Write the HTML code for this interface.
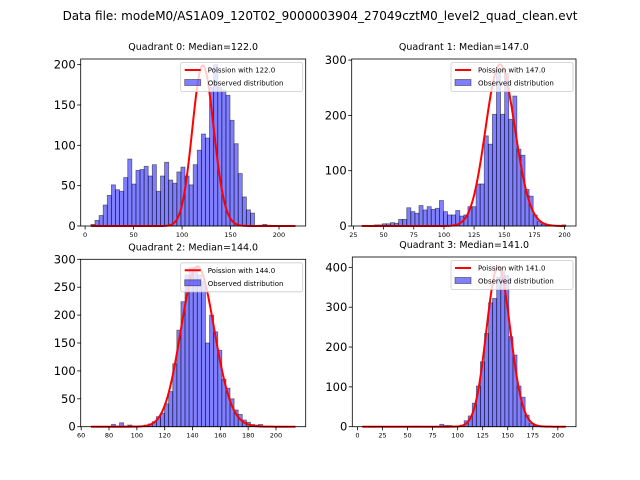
<!DOCTYPE html>
<html><head><meta charset="utf-8"><style>
html,body{margin:0;padding:0;background:#fff;}
svg{display:block;font-family:"DejaVu Sans","Liberation Sans",sans-serif;}
</style></head><body>
<svg id="fig" width="640" height="480" viewBox="0 0 640 480">
<text x="320" y="20" font-size="12" text-anchor="middle">Data file: modeM0/AS1A09_120T02_9000003904_27049cztM0_level2_quad_clean.evt</text>
</svg>
<script>
// ---- data ----
const q0Counts=[2,7,13,26,38,51,45,43,60,83,52,69,70,74,62,76,43,62,79,57,53,67,73,62,51,76,94,114,109,172,200,172,168,162,131,102,65,36,20,16,0,1,2,1,0,0,0,0,0,0];
const q1Counts=[1,1,1,2,2,4,4,6,5,12,12,33,26,23,37,29,35,30,32,46,26,20,20,28,18,20,35,35,76,76,163,148,202,282,202,276,193,235,139,128,66,54,20,8,3,2,1,1,1,2];
const q2Counts=[0,0,0,0,0,4,1,7,1,3,1,0,1,3,5,9,18,24,41,63,113,173,224,272,285,285,272,260,150,200,170,137,85,69,50,30,22,12,8,4,3,4,1,0,0,0,0,0,0,0];
const q3Counts=[1,0,0,0,0,0,0,0,0,0,0,0,1,1,0,0,0,0,0,6,3,3,1,2,4,15,27,59,102,163,234,311,322,375,390,380,226,180,102,74,29,8,3,2,1,1,0,0,0,0];
const dataMin=[6,32,67,5];
const dataMax=[217,201,214,208];
const medians=[122,147,144,141];
const poissonPeaks=[199,292,287,402];
const yTicks0=[0,50,100,150,200];
const yTicks1=[0,100,200,300];
const yTicks2=[0,50,100,150,200,250,300];
const yTicks3=[0,100,200,300,400];
const xTicks0=[0,50,100,150,200];
const xTicks1=[25,50,75,100,125,150,175,200];
const xTicks2=[60,80,100,120,140,160,180,200];
const xTicks3=[0,25,50,75,100,125,150,175,200];
const yMaxes=[207,302,300,426];

// ---- layout ----
const NS="http://www.w3.org/2000/svg";
const svg=document.getElementById('fig');
const axesBoxes=[[80.7,59,305.7,226],[351.7,59,576,226],[80.7,259.3,305.7,426.7],[352.3,257,576,426.7]];
const countsAll=[q0Counts,q1Counts,q2Counts,q3Counts];
const yTicksAll=[yTicks0,yTicks1,yTicks2,yTicks3];
const xTicksAll=[xTicks0,xTicks1,xTicks2,xTicks3];
function mk(tag,attrs,parent){const e=document.createElementNS(NS,tag);for(const k in attrs)e.setAttribute(k,attrs[k]);(parent||svg).appendChild(e);return e;}
function lnFact(k){ if(k<2) return 0; return k*Math.log(k)-k+0.5*Math.log(2*Math.PI*k)+1/(12*k); }
function pmf(k,l){return Math.exp(k*Math.log(l)-l-lnFact(k));}

for(let q=0;q<4;q++){
  const [L,T,R,B]=axesBoxes[q];
  const counts=countsAll[q];
  const mn=dataMin[q], mx=dataMax[q], span=mx-mn;
  const x0=mn-0.05*span, x1=mx+0.05*span;
  const sx=v=>L+(v-x0)/(x1-x0)*(R-L);
  const sy=v=>B-v/yMaxes[q]*(B-T);
  const g=mk('g',{});
  
  
  const title=mk('text',{x:(L+R)/2,y:T-9,'font-size':'9.5','text-anchor':'middle'},g);
  title.textContent='Quadrant '+q+': Median='+medians[q].toFixed(1);
  
  
  // bars
  const bw=span/counts.length;
  counts.forEach((c,i)=>{
    if(c<=0) return;
    const xa=sx(mn+i*bw), xb=sx(mn+(i+1)*bw);
    const r=mk('rect',{x:xa,y:sy(c),width:xb-xa,height:B-sy(c),fill:'rgba(0,0,255,0.5)',stroke:'rgba(0,0,0,0.5)','stroke-width':0.8},g);
    
    
  });
  // poisson line (on top)
  const lam=medians[q];
  const peakPmf=pmf(Math.floor(lam),lam);
  let pts=[];
  for(let k=mn;k<=mx;k++){pts.push(sx(k).toFixed(2)+','+sy(pmf(k,lam)/peakPmf*poissonPeaks[q]).toFixed(2));}
  const line=mk('polyline',{points:pts.join(' '),fill:'none',stroke:'#ff0000','stroke-width':2,'stroke-linejoin':'round'},g);
  
  
  // axes frame
  const fr=mk('rect',{x:L,y:T,width:R-L,height:B-T,fill:'none',stroke:'#000','stroke-width':0.8},g);
  
  
  // y ticks
  yTicksAll[q].forEach(t=>{
    const y=sy(t);
    mk('line',{x1:L-3.5,x2:L,y1:y,y2:y,stroke:'#000','stroke-width':0.8},g);
    const tx=mk('text',{x:L-5,y:y+4,'font-size':'11.5','text-anchor':'end'},g);
    tx.textContent=t;
    
    
  });
  xTicksAll[q].forEach(t=>{
    const x=sx(t);
    mk('line',{x1:x,x2:x,y1:B,y2:B+3.5,stroke:'#000','stroke-width':0.8},g);
    const tx=mk('text',{x:x,y:B+11,'font-size':'6.5','text-anchor':'middle'},g);
    tx.textContent=t;
    
    
  });
  // legend
  const lg=mk('g',{},g);
  
  
  const lw=122, lh=29, lx=R-lw-3, ly=T+3.5;
  mk('rect',{x:lx,y:ly,width:lw,height:lh,rx:2,fill:'rgba(255,255,255,0.8)',stroke:'#ccc','stroke-width':0.8},lg);
  mk('line',{x1:lx+4,x2:lx+20,y1:ly+7.5,y2:ly+7.5,stroke:'#ff0000','stroke-width':2},lg);
  const t1=mk('text',{x:lx+27,y:ly+10,'font-size':'7'},lg);
  t1.textContent='Poission with '+medians[q].toFixed(1);
  
  
  mk('rect',{x:lx+4,y:ly+17,width:16,height:6,fill:'rgba(0,0,255,0.5)',stroke:'rgba(0,0,0,0.5)','stroke-width':0.8},lg);
  const t2=mk('text',{x:lx+27,y:ly+23,'font-size':'7'},lg);
  t2.textContent='Observed distribution';
  
  
}
</script>
</body></html>
